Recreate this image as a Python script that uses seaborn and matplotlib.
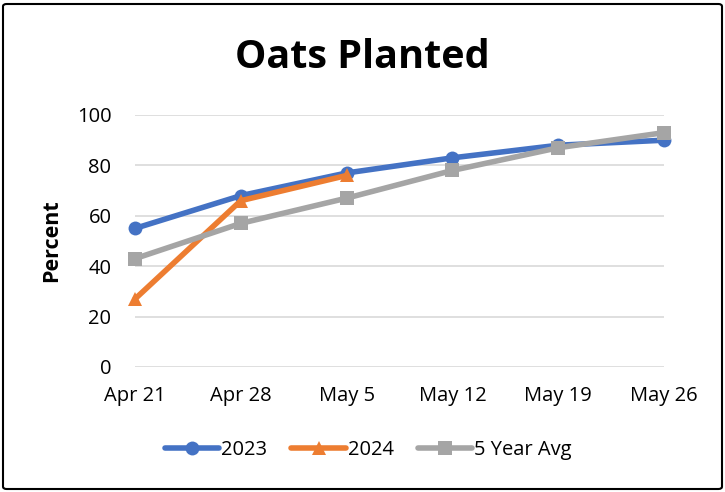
import matplotlib
matplotlib.use("Agg")
import matplotlib.pyplot as plt
import seaborn as sns
import pandas as pd
from matplotlib.patches import FancyBboxPatch
from matplotlib.lines import Line2D

dates = ["Apr 21", "Apr 28", "May 5", "May 12", "May 19", "May 26"]
y2023 = [55, 68, 77, 83, 88, 90]
y2024 = [27, 66, 76, None, None, None]
avg5 = [43, 57, 67, 78, 87, 93]

sns.set_theme(style="white")
plt.rcParams['font.family'] = ['Open Sans', 'DejaVu Sans']
plt.rcParams['text.color'] = 'black'
plt.rcParams['axes.labelcolor'] = 'black'

rows = []
for name, vals in [("2023", y2023), ("2024", y2024), ("5 Year Avg", avg5)]:
    for i, v in enumerate(vals):
        if v is not None:
            rows.append({"x": i, "y": v, "series": name})
df = pd.DataFrame(rows)

fig = plt.figure(figsize=(7.25, 4.92), dpi=100)
ax = fig.add_axes([135/725, 1-367/492, (664-135)/725, (367-115)/492])

palette = {"2023": "#4472C4", "2024": "#ED7D31", "5 Year Avg": "#A5A5A5"}
markers = {"2023": "o", "2024": "^", "5 Year Avg": "s"}
sns.lineplot(data=df, x="x", y="y", hue="series", style="series",
             palette=palette, markers=markers, dashes=False,
             linewidth=4, markersize=10, markeredgewidth=0, ax=ax,
             clip_on=False, legend=False)

ax.set_xlim(0, 5)
ax.set_ylim(0, 100)
ax.set_yticks([0, 20, 40, 60, 80, 100])
ax.set_xticks(range(len(dates)))
ax.set_xticklabels(dates)
ax.grid(axis="y", color="#D9D9D9", linewidth=1.2)
ax.set_axisbelow(True)
for s in ax.spines.values():
    s.set_visible(False)
ax.tick_params(axis="both", length=0, labelsize=14.5, colors="black")
ax.tick_params(axis="y", pad=17)
ax.tick_params(axis="x", pad=14)
ax.set_xlabel("")
ax.set_ylabel("Percent", fontsize=15.5, fontweight="bold", color="black")
ax.yaxis.set_label_coords(-0.138, 0.5)

fig.text(0.5, 1-57/492, "Oats Planted", ha="center", va="center",
         fontsize=28.5, fontweight="bold", color="black")

handles = [Line2D([], [], color=palette[k], marker=markers[k], lw=4,
                  markersize=10, markeredgewidth=0) for k in palette]
fig.legend(handles, list(palette.keys()), loc="center",
           bbox_to_anchor=(0.508, 1-450/492), ncol=3, frameon=False,
           fontsize=14.5, handlelength=2.7, handletextpad=0.1,
           columnspacing=1.2)

border = FancyBboxPatch((3/725, 3/492), 719/725, 485/492,
                        boxstyle="round,pad=0,rounding_size=0.005",
                        transform=fig.transFigure, fill=False,
                        edgecolor="black", linewidth=1.5)
fig.patches.append(border)

fig.savefig("out.png", dpi=100)
